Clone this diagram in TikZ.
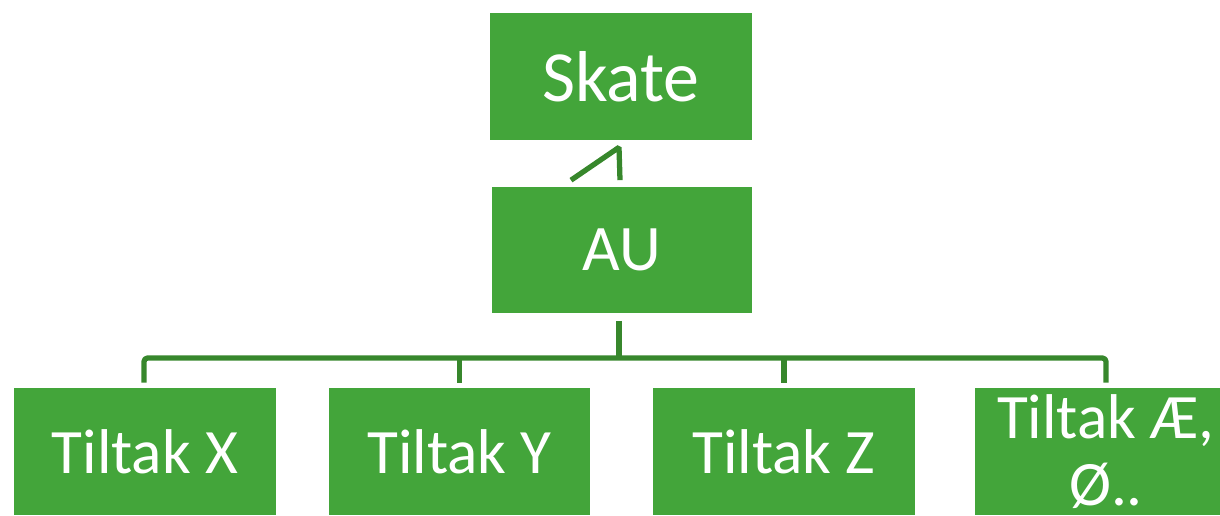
\documentclass[tikz,border=0pt]{standalone}
\usepackage{fontspec}
\setmainfont{Carlito}
\usetikzlibrary{calc}
\definecolor{boxgreen}{HTML}{43A53A}
\definecolor{linegreen}{HTML}{37872C}

\begin{document}
\begin{tikzpicture}[x=0.02cm, y=-0.02cm,
    box/.style={fill=boxgreen, text=white, minimum width=5.24cm, minimum height=2.54cm, inner sep=0pt, align=center},
    link/.style={draw=linegreen, line width=3pt, line join=bevel}]
    \useasboundingbox (0,0) rectangle (1220,515);

    \node[box, font=\fontsize{41}{49}\selectfont] (skate) at (621,76.5) {Skate};
    \node[box, font=\fontsize{37}{44}\selectfont, minimum width=5.2cm] (au) at (622,250) {AU};
    \node[box, font=\fontsize{36}{38}\selectfont] (tx) at (145,451.5) {Tiltak X};
    \node[box, font=\fontsize{36}{38}\selectfont] (ty) at (459.5,451.5) {Tiltak Y};
    \node[box, font=\fontsize{36}{38}\selectfont] (tz) at (784,451.5) {Tiltak Z};
    \node[box, font=\fontsize{36}{38}\selectfont] (tae) at (1106,451.5) {Tiltak Æ,\\Ø..};

    \coordinate (bus) at (622,358);

    \draw[link] ($(au.north)+(-51,-6)$) -- ($(skate.south)+(-2,7)$) -- ($(au.north)+(-2,-6)$);
    \draw[link] ($(au.south)+(-3,7)$) -- ($(au.south)+(-3,45)$);
    \draw[link, rounded corners=2] ($(tx.north)+(-1,-5)$) |- (bus) -| ($(tae.north)+(0,-5)$);
    \foreach \n in {ty,tz}
        \draw[link] (\n.north |- bus) -- ($(\n.north)+(0,-5)$);
\end{tikzpicture}
\end{document}
